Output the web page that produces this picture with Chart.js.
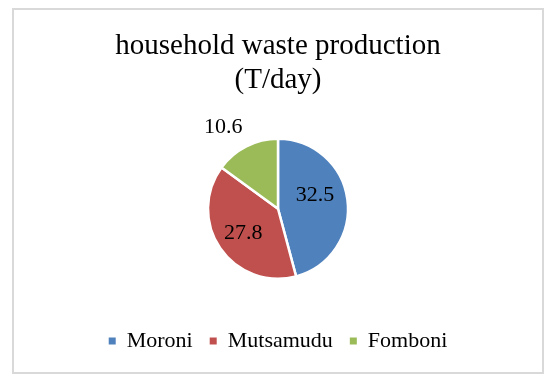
<!DOCTYPE html>
<html>
<head>
<meta charset="utf-8">
<script src="https://cdn.jsdelivr.net/npm/chart.js@4"></script>
<style>
  html, body { margin: 0; padding: 0; background: #fff; }
  #frame {
    position: absolute; left: 12px; top: 8px;
    width: 532px; height: 366px;
    border: 2px solid #d9d9d9; box-sizing: border-box;
  }
  #wasteChart { display: block; }
</style>
</head>
<body>
<div id="frame"><canvas id="wasteChart" width="528" height="362"></canvas></div>
<script>
const titleLines = ['household waste production', '(T/day)'];
const cities = ['Moroni', 'Mutsamudu', 'Fomboni'];
const wasteTons = [32.5, 27.8, 10.6];
const sliceColors = ['#4f81bd', '#c0504d', '#9bbb59'];

// where each value label sits: fraction of radius, and angle shift (deg) from slice middle
const labelPlacement = [
    { dist: 0.56, shift: -12 },
    { dist: 0.61, shift: -1 },
    { dist: 1.40, shift: -7 }
];

const serif = "'Liberation Serif', 'Times New Roman', serif";

const valueLabels = {
    id: 'valueLabels',
    afterDatasetsDraw(chart) {
        const ctx = chart.ctx;
        const arcs = chart.getDatasetMeta(0).data;
        ctx.save();
        ctx.font = '22px ' + serif;
        ctx.fillStyle = '#000';
        ctx.textAlign = 'center';
        ctx.textBaseline = 'middle';
        arcs.forEach((arc, i) => {
            const p = labelPlacement[i];
            const mid = (arc.startAngle + arc.endAngle) / 2 + p.shift * Math.PI / 180;
            const r = arc.outerRadius * p.dist;
            ctx.fillText(String(wasteTons[i]), arc.x + Math.cos(mid) * r, arc.y + Math.sin(mid) * r);
        });
        ctx.restore();
    }
};

new Chart(document.getElementById('wasteChart'), {
    type: 'pie',
    data: {
        labels: cities,
        datasets: [{
            data: wasteTons,
            backgroundColor: sliceColors,
            borderColor: '#ffffff',
            borderWidth: 2.5,
            radius: 70
        }]
    },
    options: {
        responsive: false,
        animation: false,
        events: [],
        layout: { padding: { bottom: 10 } },
        plugins: {
            title: {
                display: true,
                text: titleLines,
                color: '#000',
                font: { family: serif, size: 29, weight: 'normal', lineHeight: 1.18 },
                padding: { top: 19, bottom: 7 }
            },
            legend: {
                position: 'bottom',
                labels: {
                    color: '#000',
                    font: { family: serif, size: 22 },
                    boxWidth: 7,
                    boxHeight: 7,
                    padding: 17,
                    generateLabels(chart) {
                        const items = Chart.overrides.pie.plugins.legend.labels.generateLabels(chart);
                        items.forEach(item => {
                            item.lineWidth = 0;
                            item.strokeStyle = item.fillStyle;
                        });
                        return items;
                    }
                }
            },
            tooltip: { enabled: false }
        }
    },
    plugins: [valueLabels]
});
</script>
</body>
</html>
